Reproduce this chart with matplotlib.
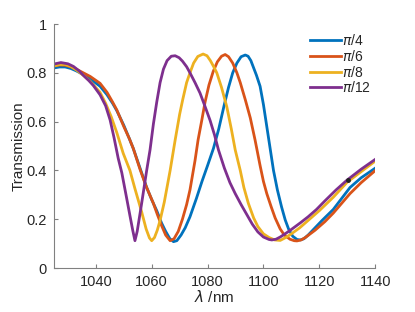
import matplotlib
matplotlib.use("Agg")
import matplotlib.pyplot as plt

plt.rcParams['font.family'] = ['Liberation Sans', 'DejaVu Sans']

# pi/4 (blue)
wl_a = [1025, 1027, 1029, 1031, 1033, 1035.5, 1038, 1041.5, 1044, 1046, 1047.5, 1050, 1052, 1053.4,
        1055.8, 1058.2, 1060, 1061.8, 1063.5, 1065, 1066.5, 1067.8, 1069, 1070.5, 1072, 1073.7,
        1076, 1078, 1080, 1082.1, 1084, 1086, 1087.5, 1089, 1090.5, 1092, 1093.5, 1094.5, 1095.5,
        1096.5, 1097.5, 1098.8, 1100, 1101.2, 1102.4, 1103.6, 1105, 1106.5, 1107.8, 1109, 1110.5,
        1112, 1113.2, 1114.5, 1116, 1118.5, 1121, 1125, 1128, 1131, 1135, 1140]
t_a = [0.820, 0.824, 0.824, 0.818, 0.808, 0.793, 0.775, 0.745, 0.71, 0.675, 0.645, 0.585, 0.53, 0.49,
       0.41, 0.33, 0.28, 0.235, 0.185, 0.15, 0.12, 0.108, 0.112, 0.135, 0.165, 0.21,
       0.285, 0.355, 0.42, 0.49, 0.57, 0.67, 0.74, 0.80, 0.84, 0.866, 0.873, 0.868, 0.85,
       0.82, 0.79, 0.745, 0.67, 0.58, 0.49, 0.40, 0.32, 0.25, 0.197, 0.16, 0.13,
       0.117, 0.115, 0.12, 0.135, 0.165, 0.195, 0.24, 0.285, 0.33, 0.37, 0.409]

# pi/6 (orange)
wl_b = [1025, 1027, 1029, 1031, 1033, 1035.5, 1038, 1041.5, 1044, 1046, 1047.5, 1050, 1052, 1053.4,
        1055.8, 1058, 1060.6, 1062, 1063.5, 1065, 1066.6, 1068, 1069.5, 1071, 1072.5, 1073.7,
        1075.5, 1076.6, 1078, 1079.1, 1080.5, 1082, 1083.5, 1085, 1086.3, 1087.5, 1089, 1090.5,
        1091.7, 1093.5, 1095.3, 1097.0, 1098.8, 1100, 1101.2, 1102.8, 1104.2, 1106, 1107.5,
        1109.5, 1111, 1112, 1113.5, 1115, 1118.5, 1122, 1125, 1128, 1131, 1135, 1140]
t_b = [0.828, 0.832, 0.831, 0.825, 0.815, 0.80, 0.785, 0.757, 0.72, 0.68, 0.648, 0.58, 0.53, 0.49,
       0.405, 0.335, 0.265, 0.22, 0.175, 0.135, 0.112, 0.12, 0.15, 0.2, 0.26, 0.32,
       0.44, 0.525, 0.61, 0.68, 0.75, 0.805, 0.845, 0.868, 0.875, 0.866, 0.84, 0.80,
       0.76, 0.69, 0.615, 0.525, 0.42, 0.355, 0.305, 0.25, 0.205, 0.16, 0.135,
       0.118, 0.112, 0.111, 0.115, 0.125, 0.155, 0.19, 0.225, 0.265, 0.305, 0.35, 0.399]

# pi/8 (yellow)
wl_c = [1025, 1027, 1029, 1031, 1033, 1035.5, 1038, 1041.5, 1043.5, 1045.5, 1047.5, 1049.8, 1052.2,
        1054, 1056.4, 1058, 1059.2, 1060, 1061, 1062, 1063, 1064.5, 1066.6, 1068.4, 1070, 1071.1,
        1072.5, 1073.7, 1075, 1076.5, 1078.4, 1079.8, 1081, 1082.2, 1083.3, 1085, 1086.9, 1088.5,
        1089.9, 1091.7, 1093, 1094.6, 1096.5, 1098, 1100, 1102, 1104, 1106, 1108, 1110, 1113,
        1116, 1120, 1125, 1130, 1135, 1140]
t_c = [0.828, 0.834, 0.834, 0.826, 0.812, 0.79, 0.765, 0.72, 0.675, 0.62, 0.555, 0.47, 0.40,
       0.325, 0.23, 0.16, 0.123, 0.112, 0.125, 0.155, 0.195, 0.27, 0.40, 0.525, 0.63, 0.69,
       0.76, 0.80, 0.84, 0.867, 0.877, 0.87, 0.85, 0.825, 0.80, 0.74, 0.66, 0.57,
       0.484, 0.40, 0.33, 0.265, 0.205, 0.17, 0.14, 0.125, 0.115, 0.113, 0.125, 0.14, 0.165,
       0.195, 0.235, 0.29, 0.352, 0.395, 0.438]

# pi/12 (purple)
wl_d = [1025, 1027.5, 1030, 1032, 1034, 1035.5, 1037.5, 1039.1, 1041.5, 1043.5, 1045.1, 1046.5,
        1048, 1049.3, 1050.8, 1052.2, 1053.2, 1054, 1054.8, 1056.4, 1058.2, 1059.4, 1060.6, 1061.8,
        1063, 1064.2, 1065.5, 1067, 1068.4, 1069.8, 1071, 1072.5, 1073.7, 1075.5, 1077.3, 1079,
        1080.9, 1082.5, 1083.9, 1086, 1088, 1089.9, 1092, 1094, 1096, 1098, 1100, 1102, 1103,
        1104.5, 1106, 1108, 1110, 1113.2, 1116, 1119, 1122, 1126, 1129.9, 1135, 1140]
t_d = [0.836, 0.842, 0.837, 0.826, 0.808, 0.79, 0.768, 0.748, 0.71, 0.665, 0.607, 0.535,
       0.45, 0.39, 0.30, 0.215, 0.155, 0.112, 0.15, 0.265, 0.40, 0.484, 0.59, 0.68,
       0.76, 0.815, 0.85, 0.868, 0.87, 0.862, 0.848, 0.825, 0.80, 0.76, 0.717, 0.665,
       0.605, 0.545, 0.484, 0.41, 0.35, 0.305, 0.26, 0.22, 0.18, 0.148, 0.127, 0.117, 0.115,
       0.118, 0.127, 0.142, 0.158, 0.185, 0.21, 0.24, 0.275, 0.32, 0.36, 0.405, 0.445]

labels = [r'$\pi$/4', r'$\pi$/6', r'$\pi$/8', r'$\pi$/12']
colors = ['#0072BD', '#D95319', '#EDB120', '#7E2F8E']

marker_wl = [1130.2]
marker_t = [0.361]

xticks = [1040, 1060, 1080, 1100, 1120, 1140]
yticks = [0, 0.2, 0.4, 0.6, 0.8, 1]
ytick_labels = ['0', '0.2', '0.4', '0.6', '0.8', '1']

fig = plt.figure(figsize=(4.15, 3.12), dpi=100)
ax = fig.add_axes([0.130, 0.141, 0.774, 0.782])

series = [(wl_a, t_a), (wl_b, t_b), (wl_c, t_c), (wl_d, t_d)]
for (x, y), lab, c in zip(series, labels, colors):
    ax.plot(x, y, color=c, lw=2.0, label=lab, solid_joinstyle='round')

ax.plot(marker_wl, marker_t, 'o', color='#222222', ms=2.5, zorder=5)

ax.set_xlim(1025, 1140)
ax.set_ylim(0, 1)
ax.set_xticks(xticks)
ax.set_yticks(yticks)
ax.set_yticklabels(ytick_labels)

for s in ['top', 'right']:
    ax.spines[s].set_visible(False)
for s in ['left', 'bottom']:
    ax.spines[s].set_color('#808080')
    ax.spines[s].set_linewidth(0.8)
ax.tick_params(direction='in', length=3, width=0.8, color='#808080',
               labelcolor='#262626', labelsize=10.5, pad=5)

ax.set_xlabel(r'$\lambda$ /nm', fontsize=11, color='#262626', labelpad=0)
ax.set_ylabel('Transmission', fontsize=11, color='#262626', labelpad=1)

leg = ax.legend(loc='upper left', bbox_to_anchor=(0.78, 0.985), frameon=False,
                fontsize=10, handlelength=2.2, handletextpad=0.1, labelspacing=0.05,
                borderaxespad=0)
for t in leg.get_texts():
    t.set_color('#262626')

fig.savefig('out.png', dpi=100)
